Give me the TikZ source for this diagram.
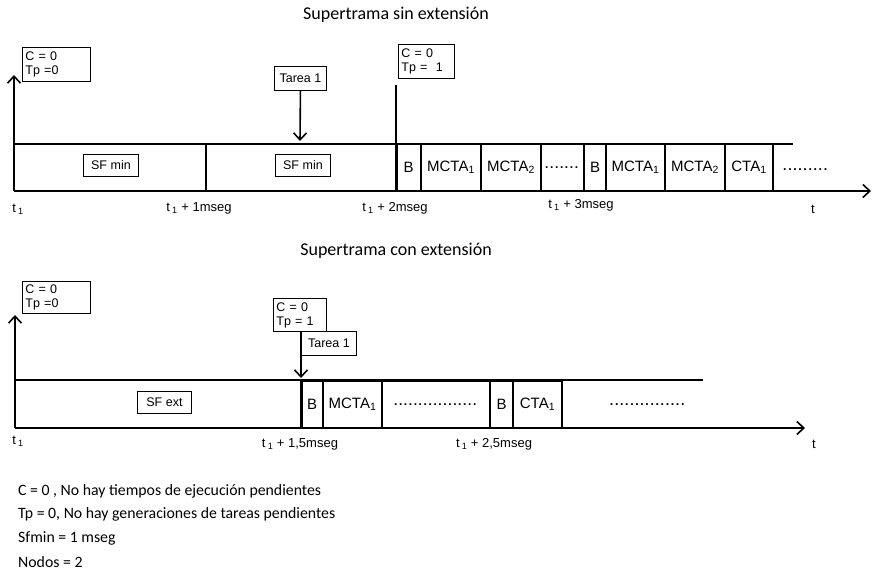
\documentclass[tikz,border=0pt]{standalone}
\usepackage{fontspec}
\setmainfont{Liberation Sans}
\newfontfamily\calibri{Carlito}
\usetikzlibrary{arrows.meta}

\newcommand{\puntos}[1]{\bfseries\foreach \i in {1,...,#1}{.\kern1.6pt}}

\begin{document}
\begin{tikzpicture}[x=1pt, y=-1pt,
                >={Straight Barb[length=7pt, width=13pt, line width=1.6pt]},
                every node/.style={font=\fontsize{12.5}{14}\selectfont},
                axis/.style={line width=1.8pt},
                info/.style={draw, line width=0.9pt, anchor=north west, align=left, inner xsep=3pt, inner ysep=1pt},
                tag/.style={draw, line width=0.9pt, anchor=north west, inner sep=0pt},
                cell/.style={draw, line width=1.3pt, anchor=south west, outer sep=0pt, minimum height=47pt, inner sep=0pt, font=\fontsize{15}{17}\selectfont},
                title/.style={font=\calibri\fontsize{18}{20}\selectfont},
                tick/.style={font=\fontsize{13}{15}\selectfont},
                note/.style={anchor=west, inner sep=0pt, font=\calibri\fontsize{15.8}{17}\selectfont}]
                
                \useasboundingbox (0,0) rectangle (874,571);
                
                % Supertrama sin extension
                \node[title] (tit1) at (396,15) {Supertrama sin extensión};
                \coordinate (o1) at (14,191);
                \coordinate (y1) at (14,75);
                \coordinate (x1) at (871,191);
                \draw[axis, ->] (o1) -- (y1);
                \draw[axis, ->] (o1) -- (x1);
                \draw[axis] (14,144) -- (793,144);
                \draw[axis] (206,144) -- (206,191);
                
                \node[info, text width=62pt, minimum height=34pt] (cp0a) at (22,47) {C = 0\\Tp =0};
                \node[info, text width=50pt, minimum height=34pt] (cp1a) at (398,44) {C = 0\\Tp = \ 1};
                \node[tag, minimum width=55pt, minimum height=22pt] (sf1) at (83,154) {SF min};
                \node[tag, minimum width=55pt, minimum height=22pt] (sf2) at (275,154) {SF min};
                \node[tag, minimum width=52pt, minimum height=24pt] (tar1) at (274,66) {Tarea 1};
                \coordinate (tar1tip) at (300,141);
                \draw[line width=1.6pt, ->] (tar1.south) -- (tar1tip);
                \coordinate (m2) at (396,85);
                \draw[line width=1.4pt] (m2) -- (396,191);
                
                % Cells after t1 + 2mseg
                \node[cell, minimum width=25pt] (b1) at (396,191) {B};
                \node[cell, minimum width=60pt] (c11) at (b1.south east) {MCTA\textsubscript{1}};
                \node[cell, minimum width=60pt] (c12) at (c11.south east) {MCTA\textsubscript{2}};
                \node[cell, minimum width=43pt] (p1) at (c12.south east) {\fontsize{12}{14}\selectfont\puntos{7}};
                \node[cell, minimum width=22pt] (b2) at (p1.south east) {B};
                \node[cell, minimum width=59pt] (c21) at (b2.south east) {MCTA\textsubscript{1}};
                \node[cell, minimum width=60pt] (c22) at (c21.south east) {MCTA\textsubscript{2}};
                \node[cell, minimum width=48pt] (c23) at (c22.south east) {CTA\textsubscript{1}};
                \node (p2) at (806,170) {\puntos{9}};
                \draw[line width=3pt] (b1.north west) -- (b1.south west);
                \draw[line width=2pt] (b2.north west) -- (b2.south west);
                
                % Ticks
                \node[tick] (l10) at (18,209) {t\,\textsubscript{1}};
                \node[tick] (l11) at (199,208) {t\,\textsubscript{1} + 1mseg};
                \node[tick] (l12) at (395,208) {t\,\textsubscript{1} + 2mseg};
                \node[tick] (l13) at (581,205) {t\,\textsubscript{1} + 3mseg};
                \node[tick] (l14) at (813,209) {t};
                
                % Supertrama con extension
                \node[title] (tit2) at (396,251) {Supertrama con extensión};
                \coordinate (o2) at (15,428);
                \coordinate (y2) at (15,315);
                \coordinate (x2) at (805,428);
                \draw[axis, ->] (o2) -- (y2);
                \draw[axis, ->] (o2) -- (x2);
                \draw[axis] (15,380) -- (703,380);
                
                \node[info, text width=62pt, minimum height=32pt] (cp0b) at (22,281) {C = 0\\Tp =0};
                \node[info, text width=47pt, minimum height=33pt] (cp1b) at (273,298) {C = 0\\Tp = 1};
                \node[tag, minimum width=55pt, minimum height=24pt] (tar2) at (301,331) {Tarea 1};
                \node[tag, minimum width=54pt, minimum height=22pt] (sfe) at (137,391) {SF ext};
                \coordinate (tar2tip) at (301,378);
                \draw[line width=1.6pt, ->] (tar2.north west) -- (tar2tip);
                
                % Cells after t1 + 1,5mseg
                \node[cell, minimum width=22pt] (b3) at (301,428) {B};
                \node[cell, minimum width=59pt] (c31) at (b3.south east) {MCTA\textsubscript{1}};
                \node[cell, minimum width=108pt] (p3) at (c31.south east) {\fontsize{12}{14}\selectfont\puntos{17}};
                \node[cell, minimum width=23pt] (b4) at (p3.south east) {B};
                \node[cell, minimum width=49pt] (c41) at (b4.south east) {CTA\textsubscript{1}};
                \node (p4) at (648,405) {\puntos{15}};
                \draw[line width=3pt] (b3.north west) -- (b3.south west);
                \draw[line width=2.4pt] (b4.north west) -- (b4.south west);
                
                % Ticks
                \node[tick] (l20) at (18,441) {t\,\textsubscript{1}};
                \node[tick] (l21) at (300,444) {t\,\textsubscript{1} + 1,5mseg};
                \node[tick] (l22) at (494,444) {t\,\textsubscript{1} + 2,5mseg};
                \node[tick] (l23) at (814,444) {t};
                
                % Notes
                \node[note] (n1) at (18,491) {C = 0 , No hay tiempos de ejecución pendientes};
                \node[note] (n2) at (18,514) {Tp = 0, No hay generaciones de tareas pendientes};
                \node[note] (n3) at (18,538) {Sfmin = 1 mseg};
                \node[note] (n4) at (18,562) {Nodos = 2};
            \end{tikzpicture}
\end{document}
